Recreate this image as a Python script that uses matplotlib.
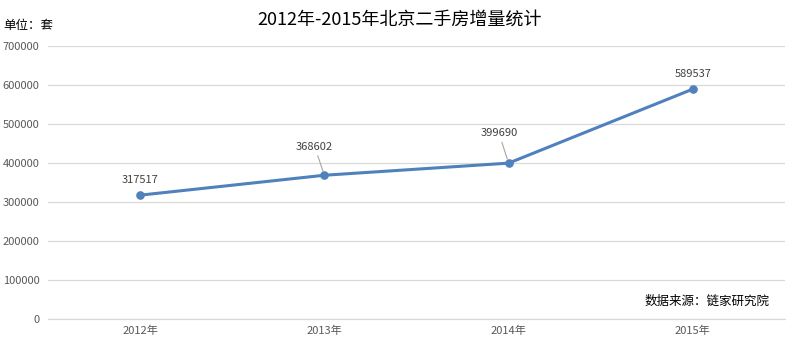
import matplotlib.pyplot as plt

plt.rcParams['font.family'] = ['Noto Sans CJK SC', 'DejaVu Sans']

# 数据
years = ['2012年', '2013年', '2014年', '2015年']
values = [317517, 368602, 399690, 589537]
y_ticks = [0, 100000, 200000, 300000, 400000, 500000, 600000, 700000]

fig = plt.figure(figsize=(7.96, 3.48), dpi=100)
ax = fig.add_axes([48 / 796, 1 - 319 / 348, (785 - 48) / 796, (319 - 46) / 348])

x = list(range(len(years)))
ax.plot(x, values, color='#4F81BD', linewidth=2.2, marker='o', markersize=5.2, zorder=3)

# 数据标签（中间两个带引导线）
offsets = [(0, 7), (-7, 17), (-7, 18), (0, 7)]
for i, v in enumerate(values):
    dx, dy = offsets[i]
    arrow = dict(arrowstyle='-', color='#A6A6A6', lw=0.8, shrinkA=1, shrinkB=3) if i in (1, 2) else None
    ax.annotate(str(v), (i, v), xytext=(dx, dy), textcoords='offset points',
                ha='center', va='bottom', fontsize=8, color='#404040', arrowprops=arrow)

ax.set_xlim(-0.5, 3.5)
ax.set_ylim(0, 700000)
ax.set_yticks(y_ticks)
ax.set_yticklabels([str(t) for t in y_ticks])
ax.set_xticks(x)
ax.set_xticklabels(years)
ax.tick_params(axis='both', length=0, labelsize=8, labelcolor='#595959')
ax.tick_params(axis='y', pad=6)
ax.tick_params(axis='x', pad=5)
ax.grid(axis='y', color='#D9D9D9', linewidth=0.9)
ax.axhline(0, color='#D9D9D9', linewidth=0.9, clip_on=False, zorder=0)
ax.set_axisbelow(True)
for s in ax.spines.values():
    s.set_visible(False)

fig.text(400 / 796, 1 - 20 / 348, '2012年-2015年北京二手房增量统计', ha='center', va='center',
         fontsize=13, color='#000000')
fig.text(3 / 796, 1 - 26 / 348, '单位：套', ha='left', va='center', fontsize=9, color='#000000')
fig.text(770 / 796, 1 - 301 / 348, '数据来源：链家研究院', ha='right', va='center', fontsize=9, color='#000000')

fig.savefig('out.png', dpi=100)
